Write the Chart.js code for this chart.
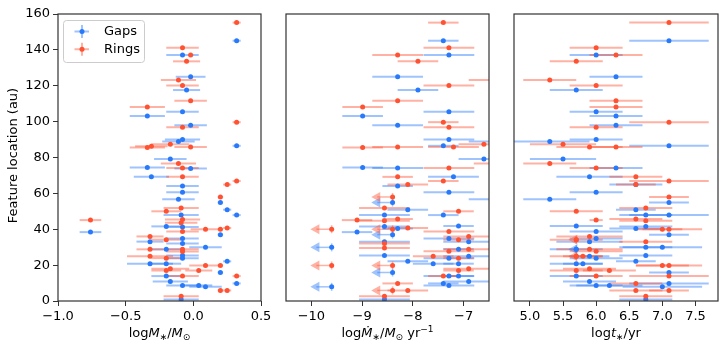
<!DOCTYPE html>
<html>
<head>
<meta charset="utf-8">
<script src="https://cdn.jsdelivr.net/npm/chart.js@4/dist/chart.umd.min.js"></script>
<style>
html, body { margin: 0; padding: 0; background: #fff; }
#wrap { position: relative; width: 725px; height: 350px; }
.panel { position: absolute; top: 0; height: 350px; }
</style>
</head>
<body>
<div id="wrap">
  <div class="panel" style="left:0;width:278px"><canvas id="massChart"></canvas></div>
  <div class="panel" style="left:280px;width:215px"><canvas id="accChart"></canvas></div>
  <div class="panel" style="left:508px;width:217px"><canvas id="ageChart"></canvas></div>
</div>
<script>
// ---- stellar mass panel ----
const massGapY   = [145.1,137.2,125.0,117.6,105.5,103.1,98.0,90.1,88.9,86.5,79.1,74.4,73.8,69.2,64.1,60.6,56.7,54.9,50.9,47.9,47.9,41.6,41.2,38.4,37.0,34.9,33.1,32.0,29.9,28.8,25.4,23.9,22.1,20.8,20.8,15.9,13.9,10.9,9.8,8.7,8.7,7.9,0.8];
const massGapX   = [0.32,-0.08,-0.02,-0.05,-0.08,-0.34,-0.02,-0.08,-0.11,0.32,-0.17,-0.34,-0.02,-0.31,-0.08,-0.08,-0.11,0.20,0.25,0.32,-0.09,-0.20,-0.08,-0.76,0.20,-0.08,-0.32,-0.08,0.09,-0.20,-0.08,-0.08,0.25,-0.32,-0.20,0.20,-0.20,-0.17,0.32,-0.08,0.04,0.09,-0.09];
const massGapErr = [0.03,0.12,0.11,0.10,0.12,0.13,0.12,0.13,0.12,0.03,0.12,0.13,0.12,0.13,0.12,0.12,0.12,0.02,0.03,0.03,0.13,0.11,0.12,0.08,0.02,0.12,0.10,0.12,0.12,0.11,0.12,0.12,0.03,0.17,0.11,0.02,0.11,0.13,0.03,0.12,0.10,0.12,0.13];

const massRingY   = [155.2,141.2,137.2,133.6,123.2,120.2,111.6,108.1,99.7,96.8,87.4,86.3,85.6,85.9,76.6,74.2,69.2,66.9,64.9,58.0,51.8,50.0,45.5,45.1,43.6,40.7,40.0,40.0,38.8,36.0,34.2,28.9,28.8,27.6,24.9,23.9,19.8,19.8,18.0,17.0,17.0,13.9,13.9,5.9,5.9,2.7];
const massRingX   = [0.32,-0.08,-0.02,-0.05,-0.11,-0.08,-0.02,-0.34,0.32,-0.08,-0.17,-0.31,-0.34,-0.02,-0.11,-0.08,-0.08,0.32,0.25,0.20,-0.09,-0.20,-0.08,-0.76,-0.09,0.25,0.09,0.20,-0.08,-0.32,-0.20,-0.08,-0.32,-0.08,-0.32,-0.20,0.09,0.20,-0.17,-0.20,0.04,-0.08,0.32,0.20,0.25,-0.09];
const massRingErr = [0.03,0.12,0.02,0.10,0.13,0.12,0.12,0.13,0.03,0.12,0.14,0.12,0.13,0.12,0.13,0.12,0.12,0.03,0.03,0.02,0.13,0.11,0.13,0.08,0.12,0.03,0.11,0.02,0.12,0.10,0.11,0.12,0.10,0.12,0.17,0.11,0.12,0.02,0.14,0.11,0.10,0.12,0.03,0.02,0.03,0.13];

// ---- accretion rate panel ----
const accGapY   = [145.1,137.2,125.0,117.6,105.5,103.1,98.0,90.1,88.9,86.5,79.1,74.4,74.2,69.2,64.1,60.6,56.7,50.9,47.9,47.9,41.8,41.6,40.4,38.4,34.9,33.1,33.1,28.9,25.4,24.9,23.9,22.1,20.8,20.8,13.9,13.9,10.9,9.8,8.7,0.8];
const accGapX   = [-7.40,-7.29,-8.30,-7.90,-7.29,-8.99,-8.30,-7.29,-6.40,-7.40,-6.60,-8.99,-8.30,-7.20,-8.30,-7.29,-6.40,-8.10,-8.56,-7.40,-7.10,-8.56,-8.30,-9.10,-7.29,-6.90,-8.56,-7.10,-8.56,-6.90,-7.29,-8.10,-7.60,-7.10,-7.29,-7.10,-6.90,-7.40,-7.29,-8.56];
const accGapErr = [0.3,0.5,0.5,0.4,0.5,0.4,0.5,0.5,0.5,0.3,0.5,0.4,0.5,0.5,0.3,0.5,0.5,0.4,0.5,0.3,0.3,0.5,0.3,0.3,0.5,0.5,0.5,0.3,0.5,0.5,0.5,0.4,0.4,0.3,0.5,0.3,0.5,0.3,0.5,0.5];
const accGapLimY = [54.9,37.0,29.9,15.9,7.9];
const accGapLimX = [-8.4,-8.4,-9.6,-8.4,-9.6];

const accRingY   = [155.2,141.2,137.2,133.6,123.2,120.2,111.6,108.1,99.7,96.8,87.4,85.9,85.9,85.6,76.6,74.2,69.2,66.9,64.9,51.8,50.0,45.7,45.1,44.8,40.7,38.8,36.0,34.2,32.0,29.5,28.9,27.8,24.9,23.9,18.0,17.0,13.9,9.8,5.9,2.7];
const accRingX   = [-7.40,-7.29,-8.30,-7.90,-6.40,-7.29,-8.30,-8.99,-7.40,-7.29,-6.60,-7.20,-8.30,-8.99,-6.30,-7.29,-8.30,-7.40,-8.10,-8.56,-7.10,-8.30,-9.10,-8.56,-8.10,-7.29,-6.90,-7.10,-8.56,-8.56,-6.90,-7.29,-7.60,-7.10,-6.90,-7.10,-7.40,-8.30,-8.10,-8.56];
const accRingErr = [0.3,0.5,0.5,0.4,0.5,0.5,0.5,0.4,0.3,0.5,0.5,0.5,0.5,0.4,0.5,0.5,0.3,0.3,0.4,0.5,0.3,0.3,0.3,0.5,0.4,0.5,0.5,0.3,0.5,0.5,0.5,0.5,0.4,0.3,0.5,0.3,0.3,0.3,0.4,0.5];
const accRingLimY = [58.0,40.0,40.0,19.8,19.8,5.9];
const accRingLimX = [-8.4,-9.6,-8.4,-9.6,-8.4,-8.4];

// ---- stellar age panel ----
const ageGapY   = [145.1,137.2,125.0,117.6,105.5,103.1,98.0,90.1,88.9,86.5,79.1,74.2,69.2,64.9,60.6,56.7,54.9,50.9,47.9,47.9,41.8,41.6,40.4,38.8,37.0,34.9,33.1,29.9,29.9,28.9,25.4,24.9,23.9,22.1,20.8,20.8,15.9,13.9,10.9,9.8,8.7,8.7,7.9,0.8];
const ageGapX   = [7.10,6.00,6.30,5.70,6.00,6.30,6.30,6.00,5.30,7.10,5.50,6.30,5.90,6.60,6.00,5.30,7.10,6.60,6.75,7.10,5.70,6.75,6.60,6.00,7.10,6.00,5.90,6.75,7.00,5.70,6.75,5.90,6.00,6.60,5.70,5.80,7.10,5.70,5.90,7.10,6.00,6.20,7.00,6.75];
const ageGapErr = [0.6,0.4,0.4,0.4,0.4,0.4,0.4,0.4,0.6,0.6,0.5,0.4,0.5,0.4,0.4,0.4,0.3,0.3,0.4,0.6,0.4,0.4,0.4,0.4,0.3,0.4,0.5,0.4,0.6,0.4,0.4,0.3,0.4,0.3,0.4,0.3,0.3,0.4,0.4,0.6,0.4,0.5,0.6,0.4];
const ageGapLimY = [28.9];
const ageGapLimX = [5.7];

const ageRingY   = [155.2,141.2,137.2,133.6,123.2,120.2,111.6,108.1,99.7,96.8,87.4,85.9,85.9,76.6,74.2,69.2,66.9,64.9,58.0,51.8,50.0,45.7,45.1,44.8,40.0,40.0,36.0,34.2,33.1,28.9,27.8,24.9,24.9,19.8,19.8,18.0,17.0,17.0,13.9,13.9,9.8,5.9,5.9,2.7];
const ageRingX   = [7.10,6.00,6.30,5.70,5.30,6.00,6.30,6.30,7.10,6.00,5.50,5.90,6.30,5.30,6.00,6.60,7.10,6.60,7.10,6.75,5.70,6.60,6.00,6.75,7.00,7.10,5.90,5.70,6.75,5.90,6.00,5.80,5.70,7.00,7.10,5.90,5.70,6.20,6.00,7.10,6.60,6.60,7.10,6.75];
const ageRingErr = [0.6,0.4,0.4,0.4,0.4,0.4,0.4,0.4,0.6,0.4,0.5,0.5,0.4,0.4,0.4,0.4,0.6,0.3,0.3,0.4,0.4,0.4,0.1,0.4,0.3,0.5,0.5,0.4,0.4,0.5,0.4,0.3,0.4,0.4,0.5,0.4,0.4,0.4,0.4,0.6,0.4,0.4,0.3,0.4];
const ageRingLimY = [34.2,24.9];
const ageRingLimX = [5.7,5.7];

// tick positions
const yTicks = [0, 20, 40, 60, 80, 100, 120, 140, 160];
const massTicks = [-1.0, -0.5, 0.0, 0.5];
const accTicks = [-10, -9, -8, -7];
const ageTicks = [5.0, 5.5, 6.0, 6.5, 7.0, 7.5];

const blue = 'rgb(40,122,250)';
const blueBar = 'rgba(40,122,250,0.45)';
const red = 'rgb(255,82,50)';
const redBar = 'rgba(255,82,50,0.45)';
const FONT = 'DejaVu Sans';

const pts = (xs, ys) => xs.map((x, i) => ({x: x, y: ys[i]}));
const minus = s => String(s).replace('-', '\u2212');

function drawRich(ctx, segs, cx, base) {
    const fontFor = s => (s.it ? 'italic ' : '') + ((s.sub || s.sup) ? 9 : 13) + 'px ' + FONT;
    let w = 0;
    segs.forEach(s => { ctx.font = fontFor(s); w += ctx.measureText(s.t).width; });
    let x = cx - w / 2;
    ctx.fillStyle = '#000';
    ctx.textAlign = 'left';
    ctx.textBaseline = 'alphabetic';
    segs.forEach(s => {
        ctx.font = fontFor(s);
        const dy = s.sub ? 3 : (s.sup ? -5 : 0);
        ctx.fillText(s.t, x, base + dy);
        x += ctx.measureText(s.t).width;
    });
}

const errorBars = {
    id: 'errorBars',
    beforeDatasetsDraw(chart) {
        const {ctx, chartArea: a, scales: {x, y}} = chart;
        ctx.save();
        ctx.beginPath();
        ctx.rect(a.left, a.top, a.width, a.height);
        ctx.clip();
        chart.data.datasets.forEach(ds => {
            ctx.strokeStyle = ds.barColor;
            ctx.fillStyle = ds.barColor;
            ds.data.forEach((p, i) => {
                const px = x.getPixelForValue(p.x);
                const py = y.getPixelForValue(p.y);
                if (ds.xErr) {
                    ctx.lineWidth = 2;
                    ctx.beginPath();
                    ctx.moveTo(x.getPixelForValue(p.x - ds.xErr[i]), py);
                    ctx.lineTo(x.getPixelForValue(p.x + ds.xErr[i]), py);
                    ctx.stroke();
                }
                if (ds.arrowLen) {
                    const tip = x.getPixelForValue(p.x - ds.arrowLen);
                    ctx.lineWidth = 1.5;
                    ctx.beginPath();
                    ctx.moveTo(px, py);
                    ctx.lineTo(tip + 6, py);
                    ctx.stroke();
                    ctx.beginPath();
                    ctx.moveTo(tip, py);
                    ctx.lineTo(tip + 9, py - 5);
                    ctx.lineTo(tip + 9, py + 5);
                    ctx.closePath();
                    ctx.fill();
                    ctx.beginPath();
                    ctx.moveTo(px, py - 4);
                    ctx.lineTo(px, py + 4);
                    ctx.stroke();
                }
            });
        });
        ctx.restore();
    },
    afterDraw(chart) {
        const {ctx, chartArea: a} = chart;
        const o = chart.options.plugins.errorBars;
        ctx.save();
        ctx.strokeStyle = '#333';
        ctx.lineWidth = 1.2;
        ctx.strokeRect(a.left, a.top, a.width, a.height);
        drawRich(ctx, o.title, (a.left + a.right) / 2, 337);
        if (o.yTitle) {
            ctx.save();
            ctx.translate(17, (a.top + a.bottom) / 2 - 2);
            ctx.rotate(-Math.PI / 2);
            ctx.font = '13px ' + FONT;
            ctx.fillStyle = '#000';
            ctx.textAlign = 'center';
            ctx.textBaseline = 'alphabetic';
            ctx.fillText(o.yTitle, 0, 0);
            ctx.restore();
        }
        if (o.legend) {
            ctx.fillStyle = 'rgba(255,255,255,0.85)';
            ctx.strokeStyle = '#ccc';
            ctx.lineWidth = 1;
            ctx.beginPath();
            ctx.roundRect(63.5, 20.5, 81, 42, 3);
            ctx.fill();
            ctx.stroke();
            [['Gaps', blue, blueBar, 31.5], ['Rings', red, redBar, 49.3]].forEach(([t, c, cb, ly]) => {
                ctx.strokeStyle = cb;
                ctx.lineWidth = 2;
                ctx.beginPath();
                ctx.moveTo(74.5, ly); ctx.lineTo(89, ly);
                ctx.moveTo(82, ly - 6.5); ctx.lineTo(82, ly + 6.5);
                ctx.stroke();
                ctx.fillStyle = c;
                ctx.beginPath();
                ctx.arc(82, ly, 2.5, 0, Math.PI * 2);
                ctx.fill();
                ctx.fillStyle = '#000';
                ctx.font = '13px ' + FONT;
                ctx.textAlign = 'left';
                ctx.textBaseline = 'middle';
                ctx.fillText(t, 104, ly);
            });
        }
        ctx.restore();
    }
};

function makePanel(id, cfg) {
    const datasets = [
        {label: 'Gaps', data: pts(cfg.gx, cfg.gy), xErr: cfg.ge, barColor: blueBar, backgroundColor: blue, order: 3},
        {label: 'Rings', data: pts(cfg.rx, cfg.ry), xErr: cfg.re, barColor: redBar, backgroundColor: red, order: 1}
    ];
    if (cfg.glx) datasets.push({label: 'Gaps limits', data: pts(cfg.glx, cfg.gly), arrowLen: cfg.arrow, barColor: blueBar, backgroundColor: blue, order: 2});
    if (cfg.rlx) datasets.push({label: 'Rings limits', data: pts(cfg.rlx, cfg.rly), arrowLen: cfg.arrow, barColor: redBar, backgroundColor: red, order: 0});
    datasets.forEach(d => { d.pointRadius = 2.5; d.pointBorderWidth = 0; d.pointHoverRadius = 2.5; });

    new Chart(document.getElementById(id), {
        type: 'scatter',
        data: {datasets: datasets},
        plugins: [errorBars],
        options: {
            animation: false,
            responsive: true,
            maintainAspectRatio: false,
            events: [],
            layout: {padding: cfg.pad},
            plugins: {
                legend: {display: false},
                tooltip: {enabled: false},
                errorBars: {title: cfg.title, yTitle: cfg.yTitle, legend: cfg.legend}
            },
            scales: {
                x: {
                    type: 'linear', min: cfg.xmin, max: cfg.xmax,
                    border: {display: false},
                    grid: {drawOnChartArea: false, drawTicks: true, tickLength: 5, color: '#333'},
                    ticks: {padding: 3, maxRotation: 0, autoSkip: false, color: '#000',
                            font: {family: FONT, size: 13}, callback: cfg.fmt},
                    afterBuildTicks(s) { s.ticks = cfg.ticks.map(v => ({value: v})); },
                    afterFit(s) { s.height = 49; s.paddingLeft = 0; s.paddingRight = 0; }
                },
                y: cfg.yTitle ? {
                    type: 'linear', min: 0, max: 160,
                    border: {display: false},
                    grid: {drawOnChartArea: false, drawTicks: true, tickLength: 5, color: '#333'},
                    ticks: {padding: 3, autoSkip: false, color: '#000', font: {family: FONT, size: 13}},
                    afterBuildTicks(s) { s.ticks = yTicks.map(v => ({value: v})); },
                    afterFit(s) { s.width = 58; s.paddingTop = 0; s.paddingBottom = 0; }
                } : {type: 'linear', min: 0, max: 160, display: false}
            }
        }
    });
}

makePanel('massChart', {
    gx: massGapX, gy: massGapY, ge: massGapErr,
    rx: massRingX, ry: massRingY, re: massRingErr,
    xmin: -1, xmax: 0.5, ticks: massTicks,
    fmt: v => minus(v.toFixed(1)),
    pad: {left: 0, right: 17, top: 14, bottom: 0},
    title: [{t: 'log'}, {t: 'M', it: 1}, {t: '\u2217', sub: 1}, {t: '/'}, {t: 'M', it: 1}, {t: '\u2299', sub: 1}],
    yTitle: 'Feature location (au)',
    legend: true
});

makePanel('accChart', {
    gx: accGapX, gy: accGapY, ge: accGapErr,
    rx: accRingX, ry: accRingY, re: accRingErr,
    glx: accGapLimX, gly: accGapLimY, rlx: accRingLimX, rly: accRingLimY, arrow: 0.42,
    xmin: -10.5, xmax: -6.5, ticks: accTicks,
    fmt: v => minus(v),
    pad: {left: 6, right: 6, top: 14, bottom: 0},
    title: [{t: 'log'}, {t: '\u1E40', it: 1}, {t: '\u2217', sub: 1}, {t: '/'}, {t: 'M', it: 1}, {t: '\u2299', sub: 1}, {t: ' yr'}, {t: '\u22121', sup: 1}]
});

makePanel('ageChart', {
    gx: ageGapX, gy: ageGapY, ge: ageGapErr,
    rx: ageRingX, ry: ageRingY, re: ageRingErr,
    glx: ageGapLimX, gly: ageGapLimY, rlx: ageRingLimX, rly: ageRingLimY, arrow: 0.12,
    xmin: 4.76, xmax: 7.84, ticks: ageTicks,
    fmt: v => v.toFixed(1),
    pad: {left: 6, right: 7, top: 14, bottom: 0},
    title: [{t: 'log'}, {t: 't', it: 1}, {t: '\u2217', sub: 1}, {t: '/yr'}]
});
</script>
</body>
</html>
